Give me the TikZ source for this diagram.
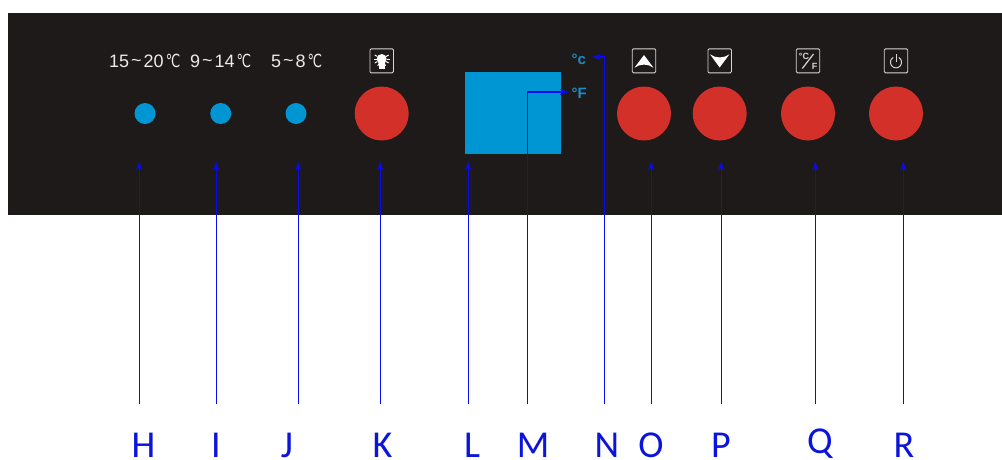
\documentclass[tikz,border=0pt]{standalone}
\usepackage{fontspec}
\setmainfont{Liberation Sans}
\newfontfamily\letterfont{Carlito}
\newfontfamily\symfont{DejaVu Sans}
\usetikzlibrary{arrows.meta}
\definecolor{panelc}{HTML}{1E1A19}
\definecolor{redc}{HTML}{D4302A}
\definecolor{bluec}{HTML}{0095D3}
\definecolor{unitc}{HTML}{1C8CC6}
\definecolor{wirec}{HTML}{0A0AF0}
\definecolor{letterc}{HTML}{0A14DC}
\definecolor{iconc}{HTML}{D8D6D2}
\newcommand{\degC}{\kern2pt\scalebox{0.72}[1]{\symfont\fontsize{18}{18}\selectfont ℃}}
\newcommand{\tld}{\kern2pt\raisebox{1pt}{\textasciitilde}\kern2pt}
\tikzset{
  led/.style={circle,fill=bluec,minimum size=21pt,inner sep=0pt},
  btn/.style={circle,fill=redc,minimum size=54pt,inner sep=0pt},
  iconbox/.style={draw=iconc,line width=0.9pt,rounded corners=1.2pt,minimum width=23.5pt,minimum height=24pt,inner sep=0pt},
  templabel/.style={text=white!92!black,font=\fontsize{18}{18}\selectfont,anchor=base west,inner sep=0pt},
  unitlabel/.style={text=unitc,font=\fontsize{15}{16}\selectfont\bfseries,anchor=base west,inner sep=0pt},
  letter/.style={text=letterc,font=\fontsize{38}{40}\letterfont\selectfont,anchor=base,inner sep=0pt},
  wire/.style={draw=wirec,line width=1.1pt,-{Stealth[length=9pt,width=6pt]}},
}
\begin{document}
\begin{tikzpicture}[x=1pt,y=-1pt]
\useasboundingbox (0,0) rectangle (1002,459);
\clip (0,0) rectangle (1002,459);
\fill[white] (0,0) rectangle (1002,459);
\fill[panelc] (8,13) rectangle (1002,215);
% LEDs and buttons
\node[led] (h) at (145,113.5) {};
\node[led] (i) at (220.7,113.5) {};
\node[led] (j) at (296,113.5) {};
\node[btn] (k) at (381.7,113.5) {};
\node[btn] (o) at (644,113.5) {};
\node[btn] (p) at (719.7,113.5) {};
\node[btn] (q) at (808,113.5) {};
\node[btn] (r) at (896,113.5) {};
\node[fill=bluec,minimum width=96.5pt,minimum height=82pt,inner sep=0pt] (l) at (512.9,113.3) {};
% temperature labels
\node[templabel] (t1) at (109,67.5) {15\tld 20\degC};
\node[templabel] (t2) at (190,67.5) {9\tld 14\degC};
\node[templabel] (t3) at (271,67.5) {5\tld 8\degC};
\node[unitlabel] (uc) at (571.5,64.5) {°c};
\node[unitlabel] (uf) at (571.5,98.5) {°F};
% icon boxes
\node[iconbox] (ik) at (381.7,60.8) {};
\node[iconbox] (io) at (644,60.8) {};
\node[iconbox] (ip) at (719.7,60.8) {};
\node[iconbox] (iq) at (808,60.8) {};
\node[iconbox] (ir) at (896,60.8) {};
% bulb
\fill[white] (381.7,59) circle (5);
\fill[white] (378.5,61) rectangle (384.9,69);
\foreach \a in {0,30,150,180,210,330,60,120,90}
  \draw[white,line width=1pt] (381.7,59)++(\a:5) -- ++(\a:3);
% up / down arrows
\fill[white] (644,55) -- (653.5,67.7) .. controls (648,63.5) and (640,63.5) .. (634.5,67.7) -- cycle;
\fill[white] (719.7,67.5) -- (710,54.3) .. controls (715.7,58.5) and (723.7,58.5) .. (729.4,54.3) -- cycle;
% degree C / F icon
\draw[iconc,line width=1.2pt] (802.3,68.5) -- (813.5,54);
\node[text=iconc,font=\fontsize{9}{9}\selectfont\bfseries,inner sep=0pt] (ic) at (804,56.8) {°C};
\node[text=iconc,font=\fontsize{9}{9}\selectfont\bfseries,inner sep=0pt] (if) at (814.5,66.3) {F};
% power icon
\draw[iconc,line width=1pt] plot[smooth,samples=30,domain=120:420] ({896+5.5*cos(\x)},{62.3-5.5*sin(\x)});
\draw[iconc,line width=1pt] (896,54.2) -- (896,62);
% letters
\node[letter] (lh) at (143.5,457) {H};
\node[letter] (li) at (216,457) {I};
\node[letter] (lj) at (287,457) {J};
\node[letter] (lk) at (382.5,457) {K};
\node[letter] (ll) at (472,457) {L};
\node[letter] (lm) at (533,457) {M};
\node[letter] (ln) at (607,457) {N};
\node[letter] (lo) at (651,457) {O};
\node[letter] (lp) at (721,457) {P};
\node[letter] (lq) at (820,453) {Q};
\node[letter] (lr) at (904,457) {R};
% wire tails and heads
\foreach \n/\x in {h/139.2,i/216.2,j/298.2,k/380.2,l/468.2,m/527.2,n/604.2,o/651.2,p/721.2,q/815.2,r/903.2}{
  \coordinate (s\n) at (\x,403.5);
}
\foreach \n/\x in {h/139.2,i/216.2,j/298.2,k/380.2,l/468.2,o/651.2,p/721.2,q/815.2,r/903.2}{
  \coordinate (e\n) at (\x,161.5);
  \draw[wire] (s\n) -- (e\n);
}
\coordinate (em) at (569,92);
\coordinate (en) at (592,57);
\draw[wire] (sm) |- (em);
\draw[wire] (sn) |- (en);
\end{tikzpicture}
\end{document}
